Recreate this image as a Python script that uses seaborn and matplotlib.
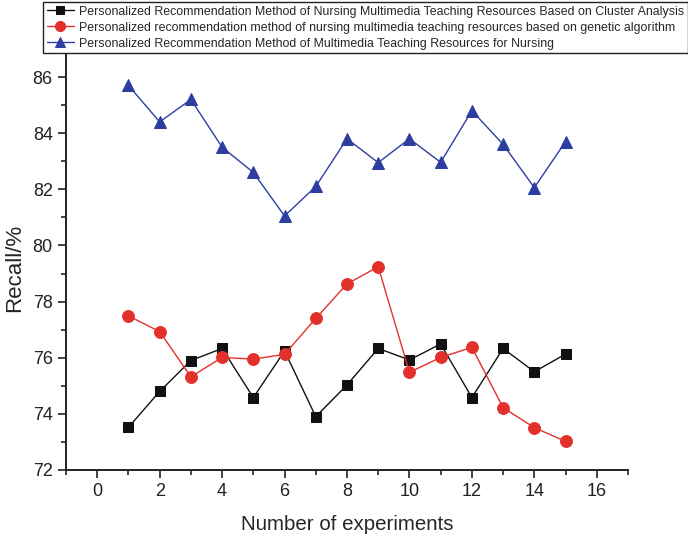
import numpy as np
import pandas as pd
import matplotlib
matplotlib.use("Agg")
import matplotlib.pyplot as plt
from matplotlib.ticker import MultipleLocator
import seaborn as sns

experiments = list(range(1, 16))
cluster = [73.52, 74.8, 75.9, 76.33, 74.58, 76.24, 73.9, 75.03, 76.33, 75.92, 76.49, 74.58, 76.33, 75.5, 76.13]
genetic = [77.49, 76.93, 75.32, 76.01, 75.95, 76.12, 77.4, 78.63, 79.24, 75.48, 76.01, 76.37, 74.22, 73.51, 73.02]
nursing = [85.7, 84.4, 85.2, 83.5, 82.6, 81.05, 82.1, 83.8, 82.95, 83.8, 82.96, 84.8, 83.6, 82.06, 83.7]
labels = [
    "Personalized Recommendation Method of Nursing Multimedia Teaching Resources Based on Cluster Analysis",
    "Personalized recommendation method of nursing multimedia teaching resources based on genetic algorithm",
    "Personalized Recommendation Method of Multimedia Teaching Resources for Nursing",
]
x_ticks = [0, 2, 4, 6, 8, 10, 12, 14, 16]
y_ticks = [72, 74, 76, 78, 80, 82, 84, 86]

sns.set_style("ticks")
plt.rcParams["font.family"] = ["Liberation Sans", "DejaVu Sans"]

fig = plt.figure(figsize=(6.88, 5.4), dpi=100)
ax = fig.add_axes([66/688, 1-470/540, (628-66)/688, (470-30)/540])

df = pd.DataFrame({
    "x": experiments * 3,
    "y": cluster + genetic + nursing,
    "method": [labels[0]] * 15 + [labels[1]] * 15 + [labels[2]] * 15,
})
colors = ["#111111", "#e3302a", "#2d3ea0"]
markers = ["s", "o", "^"]
msizes = [7, 8.5, 8.5]
handles = []
for lab, c, m, ms in zip(labels, colors, markers, msizes):
    sub = df[df["method"] == lab]
    sns.lineplot(data=sub, x="x", y="y", ax=ax, color=c, marker=m, markersize=ms,
                 markeredgecolor=c, linewidth=1.0, label=lab, legend=False)
    handles.append(ax.lines[-1])

ax.set_xlim(-1, 17)
ax.set_ylim(72, 72 + 440/28.07)
ax.set_xticks(x_ticks)
ax.set_yticks(y_ticks)
ax.xaxis.set_minor_locator(MultipleLocator(1))
ax.yaxis.set_minor_locator(MultipleLocator(1))
ax.tick_params(axis="both", which="major", direction="out", length=6, width=1.2, labelsize=13, colors="#222222")
ax.tick_params(axis="both", which="minor", direction="out", length=3.5, width=1.2)
for s in ["top", "right"]:
    ax.spines[s].set_visible(False)
for s in ["left", "bottom"]:
    ax.spines[s].set_linewidth(1.4)
    ax.spines[s].set_color("#222222")

ax.set_xlabel("Number of experiments", fontsize=14.8, labelpad=11)
ax.set_ylabel("Recall/%", fontsize=16)
ax.yaxis.set_label_coords((25-66)/562, (470-268)/440)

leg = fig.legend(handles=handles, labels=labels, loc="upper left", bbox_to_anchor=(43/688, 1-2/540),
                 prop={"size": 8.9}, frameon=True, fancybox=False, edgecolor="#222222", framealpha=1,
                 handlelength=2.2, handletextpad=0.4, borderaxespad=0, labelspacing=0.32,
                 borderpad=0.3, markerscale=0.85)
leg.get_frame().set_linewidth(1.0)

fig.savefig("out.png", dpi=100)
